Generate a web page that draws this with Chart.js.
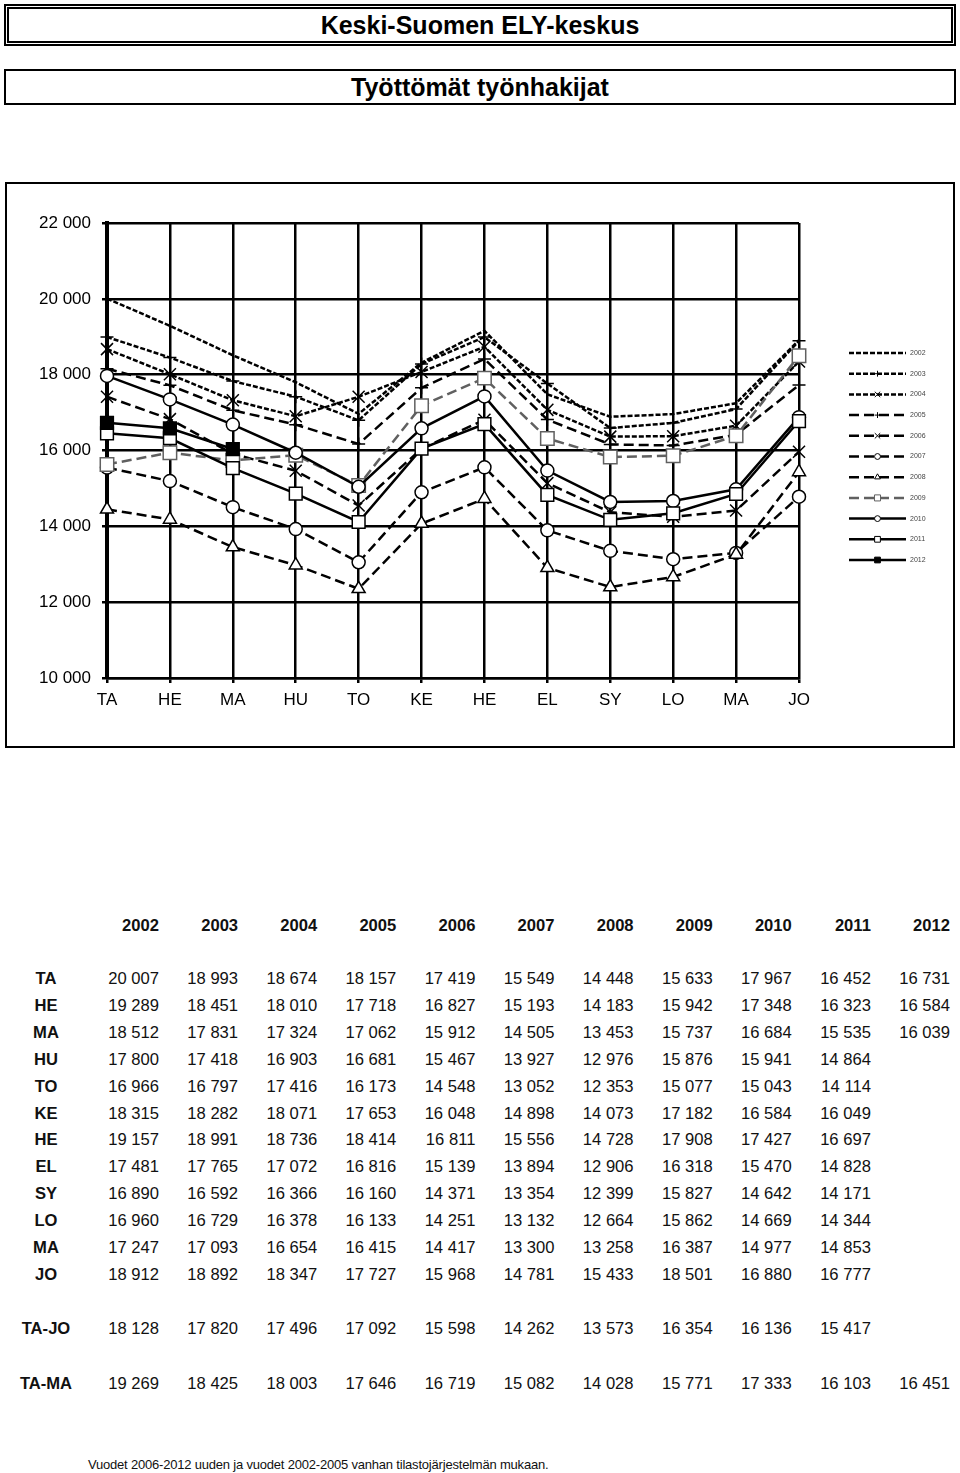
<!DOCTYPE html>
<html>
<head>
<meta charset="utf-8">
<script src="https://cdn.jsdelivr.net/npm/chart.js@4.4.0/dist/chart.umd.min.js"></script>
<style>
body { margin:0; width:960px; height:1473px; position:relative; background:#fff;
       font-family:"Liberation Sans", Arial, sans-serif; color:#111; }
.titlebox { position:absolute; left:4px; width:952px; box-sizing:border-box; text-align:center;
            font-weight:bold; font-size:25px; color:#000; }
#t1 { top:4px; height:42px; border:5px double #000; line-height:32px; }
#t2 { top:69px; height:36px; border:2px solid #000; line-height:32px; }
#frame { position:absolute; left:5px; top:182px; width:950px; height:566px;
         border:2px solid #000; box-sizing:border-box; }
#frame canvas { position:absolute; left:0; top:0; }
.row { position:absolute; left:0; width:960px; height:26px; line-height:26px; font-size:16.6px; }
.row span { position:absolute; top:0; text-align:right; width:76px; white-space:nowrap; }
.row .lab { left:0; width:92px; text-align:center; font-weight:bold; }
.row.head span { font-weight:bold; }
#note { position:absolute; left:88px; top:1457px; font-size:13px; white-space:nowrap; letter-spacing:-0.2px; }
</style>
</head>
<body>
<div class="titlebox" id="t1">Keski-Suomen ELY-keskus</div>
<div class="titlebox" id="t2">Työttömät työnhakijat</div>

<div id="frame"><canvas id="chart" width="946" height="562"></canvas></div>

<div id="table"></div>
<div id="note">Vuodet 2006-2012 uuden ja vuodet 2002-2005 vanhan tilastojärjestelmän mukaan.</div>

<script>
// kuukaudet ja vuodet
var months = ['TA', 'HE', 'MA', 'HU', 'TO', 'KE', 'HE', 'EL', 'SY', 'LO', 'MA', 'JO'];
var years = ['2002', '2003', '2004', '2005', '2006', '2007', '2008', '2009', '2010', '2011', '2012'];
var yTicks = [10000, 12000, 14000, 16000, 18000, 20000, 22000];

// työttömät työnhakijat kuukausittain, yksi taulukko per vuosi
var y2002 = [20007, 19289, 18512, 17800, 16966, 18315, 19157, 17481, 16890, 16960, 17247, 18912];
var y2003 = [18993, 18451, 17831, 17418, 16797, 18282, 18991, 17765, 16592, 16729, 17093, 18892];
var y2004 = [18674, 18010, 17324, 16903, 17416, 18071, 18736, 17072, 16366, 16378, 16654, 18347];
var y2005 = [18157, 17718, 17062, 16681, 16173, 17653, 18414, 16816, 16160, 16133, 16415, 17727];
var y2006 = [17419, 16827, 15912, 15467, 14548, 16048, 16811, 15139, 14371, 14251, 14417, 15968];
var y2007 = [15549, 15193, 14505, 13927, 13052, 14898, 15556, 13894, 13354, 13132, 13300, 14781];
var y2008 = [14448, 14183, 13453, 12976, 12353, 14073, 14728, 12906, 12399, 12664, 13258, 15433];
var y2009 = [15633, 15942, 15737, 15876, 15077, 17182, 17908, 16318, 15827, 15862, 16387, 18501];
var y2010 = [17967, 17348, 16684, 15941, 15043, 16584, 17427, 15470, 14642, 14669, 14977, 16880];
var y2011 = [16452, 16323, 15535, 14864, 14114, 16049, 16697, 14828, 14171, 14344, 14853, 16777];
var y2012 = [16731, 16584, 16039];

// keskiarvot
var avgTaJo = [18128, 17820, 17496, 17092, 15598, 14262, 13573, 16354, 16136, 15417];
var avgTaMa = [19269, 18425, 18003, 17646, 16719, 15082, 14028, 15771, 17333, 16103, 16451];

var series = [y2002, y2003, y2004, y2005, y2006, y2007, y2008, y2009, y2010, y2011, y2012];

function fmt(v) {
	return String(v).replace(/\B(?=(\d{3})+(?!\d))/g, ' ');
}

// viivatyylit vuosittain
var fine = [5, 2], dash = [10, 5];
var styles = [
	{ dash: fine, style: 'circle', r: 0 },
	{ dash: fine, style: 'cross', r: 6.5 },
	{ dash: fine, style: 'crossRot', r: 8.5 },
	{ dash: dash, style: 'cross', r: 6.5 },
	{ dash: dash, style: 'crossRot', r: 8.5 },
	{ dash: dash, style: 'circle', r: 6.5, fill: '#fff' },
	{ dash: dash, style: 'triangle', r: 7.5, fill: '#fff' },
	{ dash: dash, style: 'rect', r: 9.5, fill: '#fff', color: '#606060' },
	{ dash: [], style: 'circle', r: 6.5, fill: '#fff' },
	{ dash: [], style: 'rect', r: 9, fill: '#fff' },
	{ dash: [], style: 'rect', r: 9, fill: '#000' }
];

var datasets = years.map(function (yr, i) {
	var s = styles[i];
	var col = s.color || '#000';
	return {
		label: yr,
		data: series[i],
		borderColor: col,
		borderWidth: 2.5,
		borderDash: s.dash,
		pointStyle: s.style,
		pointRadius: s.r,
		pointBorderColor: col,
		pointBackgroundColor: s.fill || col,
		pointBorderWidth: 1.5,
		tension: 0,
		order: years.length - i
	};
});

// legenda oikealle
var sideLegend = {
	id: 'sideLegend',
	afterDraw: function (chart) {
		var ctx = chart.ctx, area = chart.chartArea;
		var x0 = area.right + 50, x1 = area.right + 107;
		var step = 20.7;
		var top = (area.top + area.bottom) / 2 + 6 - step * (years.length - 1) / 2;
		chart.data.datasets.forEach(function (ds, i) {
			var y = top + i * step;
			ctx.save();
			ctx.strokeStyle = ds.borderColor;
			ctx.lineWidth = ds.borderWidth;
			ctx.setLineDash(ds.borderDash);
			ctx.beginPath();
			ctx.moveTo(x0, y);
			ctx.lineTo(x1, y);
			ctx.stroke();
			ctx.setLineDash([]);
			if (ds.pointRadius > 0) {
				ctx.fillStyle = ds.pointBackgroundColor;
				ctx.strokeStyle = ds.pointBorderColor;
				ctx.lineWidth = 1;
				Chart.helpers.drawPoint(ctx, { pointStyle: ds.pointStyle, radius: ds.pointRadius * 0.45, borderWidth: 1 }, (x0 + x1) / 2, y);
			}
			ctx.fillStyle = '#444';
			ctx.font = '7px "Liberation Sans", Arial, sans-serif';
			ctx.textBaseline = 'middle';
			ctx.fillText(ds.label, x1 + 4, y);
			ctx.restore();
		});
	}
};

var ctx = document.getElementById('chart').getContext('2d');
var myChart = new Chart(ctx, {
	type: 'line',
	data: { labels: months, datasets: datasets },
	plugins: [sideLegend],
	options: {
		responsive: false,
		animation: false,
		layout: { padding: { left: 0, right: 154, top: 39, bottom: 0 } },
		plugins: { legend: { display: false }, tooltip: { enabled: false } },
		scales: {
			x: {
				offset: false,
				grid: { color: '#000', lineWidth: 2.5, tickLength: 5 },
				border: { color: '#000', width: 2.5 },
				ticks: { color: '#000', padding: 7, maxRotation: 0, autoSkip: false,
					font: { family: '"Liberation Sans", Arial, sans-serif', size: 17 } },
				afterFit: function (s) { s.height = 68; }
			},
			y: {
				min: yTicks[0],
				max: yTicks[yTicks.length - 1],
				afterBuildTicks: function (s) { s.ticks = yTicks.map(function (v) { return { value: v }; }); },
				grid: { color: '#000', lineWidth: 2.5, tickLength: 5 },
				border: { color: '#000', width: 4 },
				ticks: { color: '#000', padding: 11,
					font: { family: '"Liberation Sans", Arial, sans-serif', size: 17 },
					callback: function (v) { return fmt(v); } },
				afterFit: function (s) { s.width = 100; }
			}
		}
	}
});

// taulukko kaavion alle
var table = document.getElementById('table');
var colRight0 = 159, colStep = 79.1;

function addRow(label, values, centerY, cls) {
	var row = document.createElement('div');
	row.className = 'row' + (cls ? ' ' + cls : '');
	row.style.top = (centerY - 13) + 'px';
	var lab = document.createElement('span');
	lab.className = 'lab';
	lab.textContent = label;
	row.appendChild(lab);
	values.forEach(function (v, k) {
		if (v === undefined || v === null) return;
		var sp = document.createElement('span');
		sp.style.left = (colRight0 + k * colStep - 76) + 'px';
		sp.textContent = typeof v === 'number' ? fmt(v) : v;
		row.appendChild(sp);
	});
	table.appendChild(row);
}

addRow('', years, 926, 'head');
months.forEach(function (m, j) {
	var vals = series.map(function (s) { return s[j]; });
	addRow(m, vals, 979 + j * 26.9);
});
addRow('TA-JO', avgTaJo, 1329);
addRow('TA-MA', avgTaMa, 1384);
</script>
</body>
</html>
